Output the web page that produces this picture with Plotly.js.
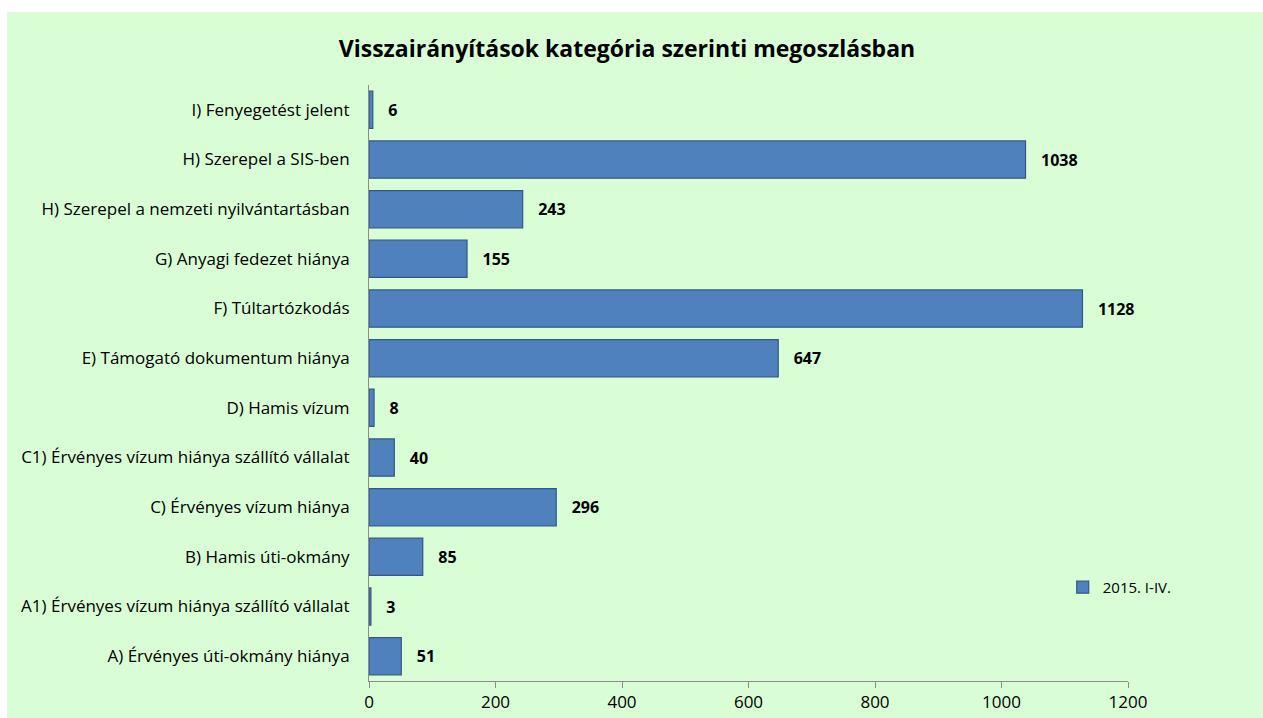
<!DOCTYPE html>
<html>
<head>
<meta charset="utf-8">
<script src="https://cdn.plot.ly/plotly-3.0.1.min.js"></script>
<style>
html,body{margin:0;padding:0;background:#ffffff;overflow:hidden;}
#chart{position:absolute;left:7px;top:12px;width:1256px;height:706px;}
</style>
</head>
<body>
<div id="chart"></div>
<script>
const categories = [
  "A) Érvényes úti-okmány hiánya",
  "A1) Érvényes vízum hiánya szállító vállalat",
  "B) Hamis úti-okmány",
  "C) Érvényes vízum hiánya",
  "C1) Érvényes vízum hiánya szállító vállalat",
  "D) Hamis vízum",
  "E) Támogató dokumentum hiánya",
  "F) Túltartózkodás",
  "G) Anyagi fedezet hiánya",
  "H) Szerepel a nemzeti nyilvántartásban",
  "H) Szerepel a SIS-ben",
  "I) Fenyegetést jelent"
];
const values = [51, 3, 85, 296, 40, 8, 647, 1128, 155, 243, 1038, 6];
const seriesName = "2015. I-IV.";
const xTicks = [0, 200, 400, 600, 800, 1000, 1200];
const chartTitle = "Visszairányítások kategória szerinti megoszlásban";

const font = "'Open Sans', sans-serif";

const trace = {
  type: "bar",
  orientation: "h",
  y: categories,
  x: values,
  name: seriesName,
  marker: {color: "#4f81bd", line: {color: "#34578a", width: 1.2}},
  text: values.map(v => "   " + v),
  textposition: "outside",
  cliponaxis: false,
  textfont: {family: font, size: 16, color: "#000000", weight: "bold"},
  hoverinfo: "x+y"
};

const layout = {
  width: 1256,
  height: 706,
  paper_bgcolor: "#d9fdd5",
  plot_bgcolor: "#d9fdd5",
  margin: {l: 362, r: 135, t: 73, b: 37},
  bargap: 0.25,
  title: {
    text: "<b>" + chartTitle + "</b>",
    font: {family: font, size: 23, color: "#000000"},
    x: 0.4936, xanchor: "center",
    y: 0.947, yanchor: "middle"
  },
  showlegend: true,
  legend: {
    x: 0.914, xanchor: "left",
    y: 0.157, yanchor: "middle",
    bgcolor: "rgba(0,0,0,0)",
    font: {family: font, size: 15, color: "#000000"}
  },
  xaxis: {
    range: [0, 1200],
    tickvals: xTicks,
    ticktext: xTicks.map(String),
    showgrid: false,
    zeroline: false,
    showline: true,
    linecolor: "#8c8c8c",
    linewidth: 1,
    ticks: "outside",
    ticklen: 6,
    tickcolor: "#8c8c8c",
    tickfont: {family: font, size: 17, color: "#000000"}
  },
  yaxis: {
    type: "category",
    showgrid: false,
    zeroline: false,
    showline: true,
    linecolor: "#8c8c8c",
    linewidth: 1,
    ticks: "",
    ticklabelstandoff: 15,
    tickfont: {family: font, size: 17, color: "#000000"},
    automargin: false
  }
};

Plotly.newPlot("chart", [trace], layout, {displayModeBar: false, staticPlot: true});
</script>
</body>
</html>
